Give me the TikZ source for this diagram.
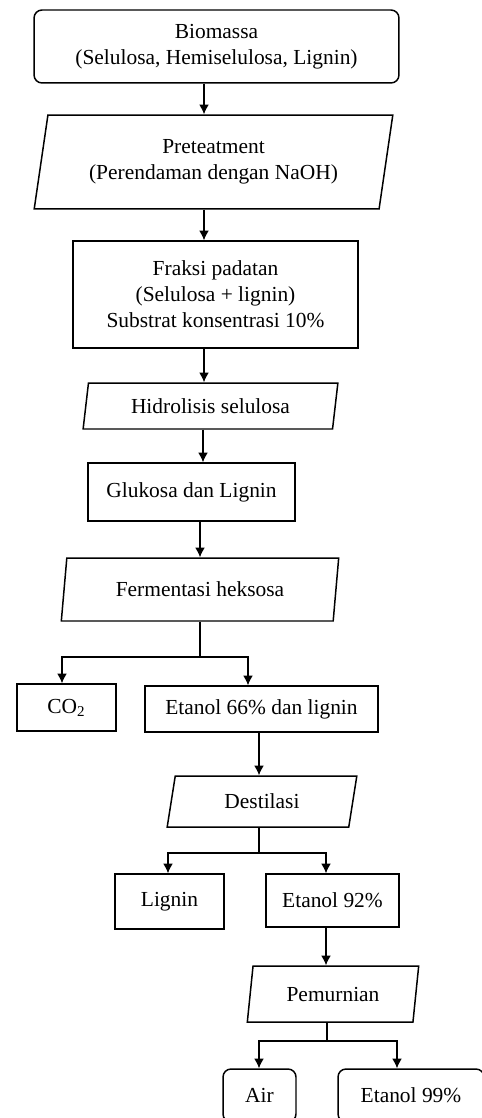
\documentclass[tikz,border=0pt]{standalone}
\usepackage{fontspec}
\setmainfont{Liberation Serif}
\usepackage{tikz}
\usetikzlibrary{arrows.meta,shapes.geometric}

\begin{document}
\begin{tikzpicture}[x=0.02cm, y=-0.02cm, line width=0.6pt,
		>={Latex[length=5.5pt,width=5.5pt]},
		kotak/.style={draw, rectangle, line width=0.85pt, inner sep=0pt, align=center,
			font=\fontsize{12.2}{14.8}\selectfont},
		bulat/.style={kotak, rounded corners=0.16cm},
		jajar/.style={kotak, trapezium, trapezium left angle=77, trapezium right angle=103,
			trapezium stretches=true}]
		\useasboundingbox (0,0) rectangle (482,1118);
		\clip (0,0) rectangle (482,1118);
		
		\node[bulat, minimum width=7.3cm, minimum height=1.46cm] (0) at (216.5, 46.5) {Biomassa\\(Selulosa, Hemiselulosa, Lignin)};
		\node[jajar, minimum width=7.18cm, minimum height=1.88cm] (1) at (213.5, 162) {Preteatment\\(Perendaman dengan NaOH)};
		\node[kotak, minimum width=5.7cm, minimum height=2.14cm] (2) at (215.5, 294.5) {Fraksi padatan\\(Selulosa + lignin)\\Substrat konsentrasi 10\%};
		\node[jajar, minimum width=5.14cm, minimum height=0.92cm] (3) at (210.5, 406) {Hidrolisis selulosa};
		\node[kotak, minimum width=4.14cm, minimum height=1.16cm] (4) at (191.5, 492) {Glukosa dan Lignin};
		\node[jajar, minimum width=5.56cm, minimum height=1.26cm] (5) at (200, 589.5) {Fermentasi heksosa};
		
		\node[kotak, minimum width=1.98cm, minimum height=0.94cm] (6) at (66.5, 707.5) {CO\textsubscript{2}};
		\node[kotak, minimum width=4.66cm, minimum height=0.92cm] (7) at (261.5, 709) {Etanol 66\% dan lignin};
		\node[jajar, minimum width=3.8cm, minimum height=1.02cm] (8) at (262, 801.5) {Destilasi};
		
		\node[kotak, minimum width=2.18cm, minimum height=1.1cm] (9) at (169.5, 901.5) {Lignin};
		\node[kotak, minimum width=2.66cm, minimum height=1.06cm] (10) at (332.5, 900.5) {Etanol 92\%};
		\node[jajar, minimum width=3.44cm, minimum height=1.12cm] (11) at (333, 994) {Pemurnian};
		
		\node[bulat, minimum width=1.46cm, minimum height=1.06cm] (12) at (259.5, 1095.5) {Air};
		\node[bulat, minimum width=2.92cm, minimum height=1.06cm] (13) at (411, 1095.5) {Etanol 99\%};
		
		\coordinate (5a) at (200, 657);
		\coordinate (8a) at (259, 853);
		\coordinate (11a) at (327, 1041);
		
		\draw[->] (0.south -| 204,0) -- (1.north -| 204,0);
		\draw[->] (1.south -| 204,0) -- (2.north -| 204,0);
		\draw[->] (2.south -| 204,0) -- (3.north -| 204,0);
		\draw[->] (3.south -| 203,0) -- (4.north -| 203,0);
		\draw[->] (4.south -| 200,0) -- (5.north -| 200,0);
		
		\draw (5.south -| 5a) -- (5a);
		\draw[->] (5a) -| (6.north -| 62,0);
		\draw[->] (5a) -| (7.north -| 248,0);
		
		\draw[->] (7.south -| 8a) -- (8.north -| 8a);
		\draw (8.south -| 8a) -- (8a);
		\draw[->] (8a) -| (9.north -| 168,0);
		\draw[->] (8a) -| (10.north -| 326,0);
		
		\draw[->] (10.south -| 326,0) -- (11.north -| 326,0);
		\draw (11.south -| 11a) -- (11a);
		\draw[->] (11a) -| (12.north -| 259,0);
		\draw[->] (11a) -| (13.north -| 397,0);
		\end{tikzpicture}
\end{document}
